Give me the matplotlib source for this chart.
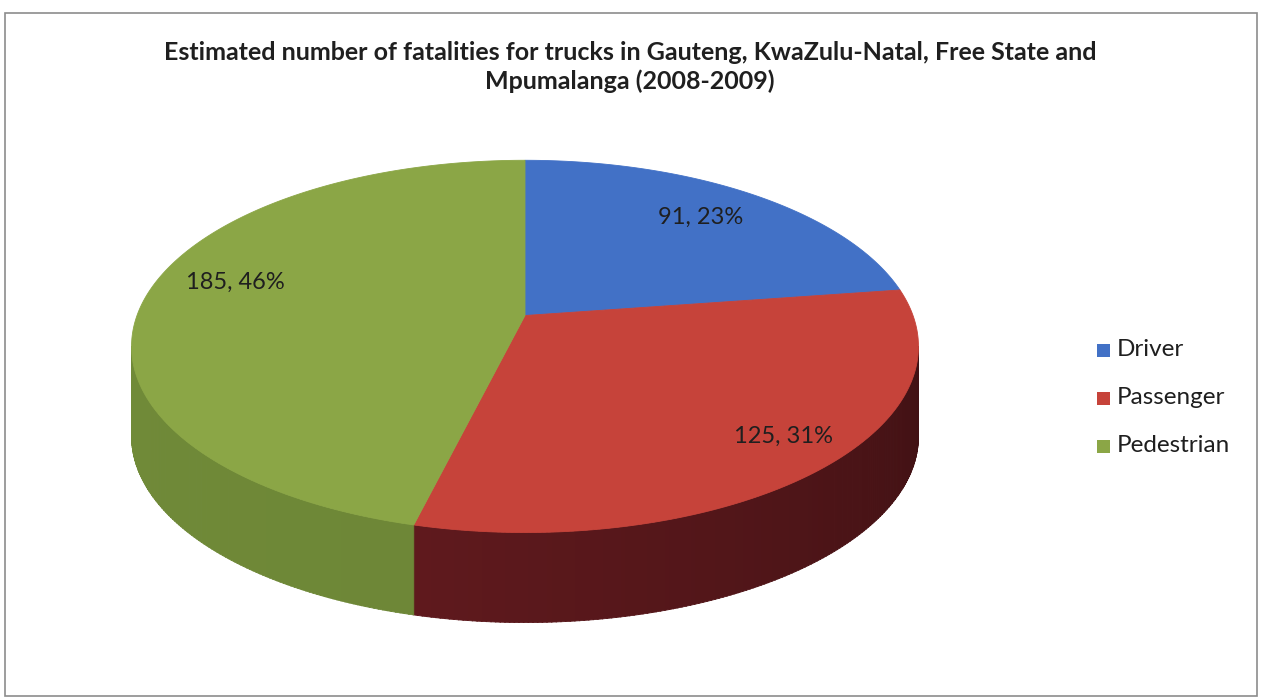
import numpy as np
import matplotlib
matplotlib.use("Agg")
import matplotlib.pyplot as plt
from matplotlib.patches import Polygon, Rectangle

# Data
categories = ["Driver", "Passenger", "Pedestrian"]
fatalities = [91, 125, 185]
top_colors = ["#4271c6", "#c6433a", "#8ba646"]
side_colors = ["#2c4f8e", "#621a1e", "#6c8536"]
title = ("Estimated number of fatalities for trucks in Gauteng, KwaZulu-Natal, Free State and\n"
         "Mpumalanga (2008-2009)")

W, H = 1261, 698
fig = plt.figure(figsize=(W / 100, H / 100), dpi=100)
ax = fig.add_axes([0, 0, 1, 1])
ax.set_xlim(0, W)
ax.set_ylim(H, 0)
ax.axis("off")

FONT = ["Lato", "DejaVu Sans"]
TXT = "#1f1f1f"

# chart frame
ax.add_patch(Rectangle((5, 13), 1252, 683, fill=False, ec="#8c8c8c", lw=1.2))

# Perspective ellipse geometry
cx, y0 = 525.0, 315.5
A, B, persp = 388.0, 181.0, 0.166
depth = 90.0


def project(theta, dy=0.0):
    # theta measured clockwise from the far (top) point of the pie
    u = np.sin(theta)
    v = -np.cos(theta)
    w = 1.0 / (1.0 - persp * v)
    return cx + A * u * w, y0 + B * v * w + dy


total = float(sum(fatalities))
fracs = [f / total for f in fatalities]
bounds = np.concatenate([[0], np.cumsum(fracs)]) * 2 * np.pi

# silhouette extremes (front arc between them shows the side wall)
tt = np.linspace(0, 2 * np.pi, 20001)
xs, _ = project(tt)
t_right = tt[np.argmax(xs)]
t_left = tt[np.argmin(xs)]


def shade(hexcol, k):
    c = np.array(matplotlib.colors.to_rgb(hexcol))
    return np.clip(c * k, 0, 1)


# side walls
for i in range(len(fatalities)):
    a0 = max(bounds[i], t_right)
    a1 = min(bounds[i + 1], t_left)
    if a1 <= a0:
        continue
    n = max(int((a1 - a0) / 0.01), 2)
    edges = np.linspace(a0, a1, n + 1)
    for j in range(n):
        s0, s1 = edges[j], edges[j + 1] + 0.002
        ts = np.linspace(s0, s1, 4)
        xt, yt = project(ts)
        xb, yb = project(ts[::-1], depth)
        mid = 0.5 * (s0 + s1)
        # darker towards the right-hand side of the pie
        f = (mid - t_right) / (t_left - t_right)
        k = 0.65 + 0.55 * f if i != 2 else 0.98 + 0.06 * f
        col = shade(side_colors[i], min(k, 1.1))
        poly = np.column_stack([np.r_[xt, xb], np.r_[yt, yb]])
        ax.add_patch(Polygon(poly, closed=True, fc=col, ec=col, lw=0.6))

# top faces
for i in range(len(fatalities)):
    ts = np.linspace(bounds[i], bounds[i + 1], 300)
    x, y = project(ts)
    poly = np.column_stack([np.r_[cx, x], np.r_[y0, y]])
    ax.add_patch(Polygon(poly, closed=True, fc=top_colors[i], ec=top_colors[i], lw=0.6))

# data labels
label_pos = [(701, 217), (783, 436), (235, 282)]
for i, (lx, ly) in enumerate(label_pos):
    pct = round(100 * fracs[i])
    ax.text(lx, ly, f"{fatalities[i]}, {pct}%", ha="center", va="center",
            fontsize=17, color=TXT, family=FONT)

# title
ax.text(630, 67, title, ha="center", va="center", fontsize=18, fontweight="bold",
        color=TXT, family=FONT, linespacing=1.3)

# legend
leg_y = [350, 398, 446]
for i, name in enumerate(categories):
    ax.add_patch(Rectangle((1097, leg_y[i] - 6.5), 13, 13, fc=top_colors[i], ec="none"))
    ax.text(1117, leg_y[i], name, ha="left", va="center", fontsize=17.5,
            color=TXT, family=FONT)

fig.savefig("out.png", dpi=100)
